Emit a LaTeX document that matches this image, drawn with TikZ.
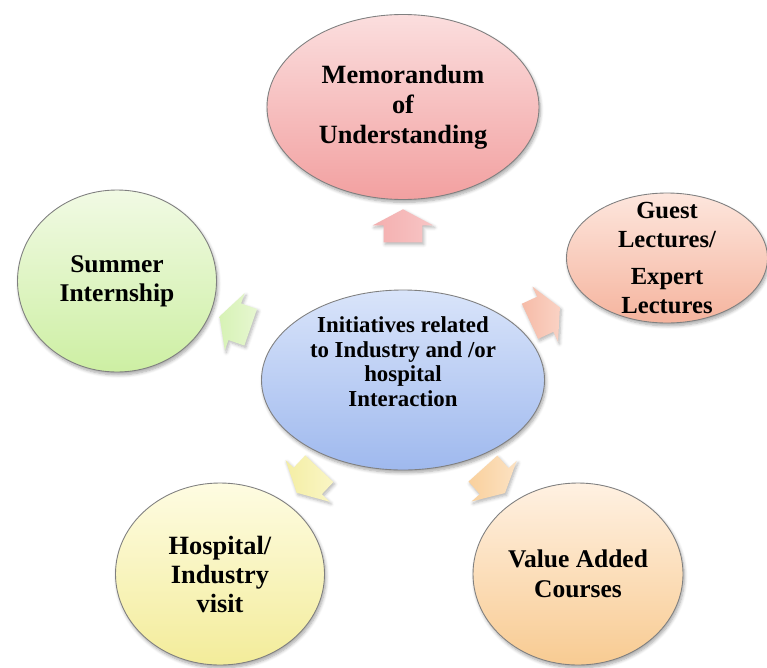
\documentclass[tikz,border=0pt]{standalone}
\usepackage{fontspec}
\setmainfont{Liberation Serif}
\usetikzlibrary{positioning,shapes.geometric,shapes.arrows,shadows.blur}

\definecolor{hubT}{HTML}{D9E4FA}
\definecolor{hubB}{HTML}{9FB9EE}
\definecolor{mouT}{HTML}{FBDEDE}
\definecolor{mouB}{HTML}{F2A0A0}
\definecolor{guestT}{HTML}{FDE6DD}
\definecolor{guestB}{HTML}{F5B49E}
\definecolor{sumT}{HTML}{F1FAE4}
\definecolor{sumB}{HTML}{CDEFA3}
\definecolor{hospT}{HTML}{FEFCE2}
\definecolor{hospB}{HTML}{F3EC9A}
\definecolor{vacT}{HTML}{FFF1E2}
\definecolor{vacB}{HTML}{F8CB92}

\begin{document}
\begin{tikzpicture}[on grid,
    bubble/.style = {ellipse, draw=black!50, line width=0.5pt, inner sep=0pt, align=center,
        font=\fontsize{15}{17}\selectfont\bfseries,
        blur shadow={shadow xshift=0.8pt, shadow yshift=-1.6pt, shadow blur steps=6, shadow opacity=35}},
    flow/.style = {single arrow, single arrow head extend=0.22cm, single arrow tip angle=124,
        single arrow head indent=0pt, minimum height=0.66cm, minimum width=1.2cm,
        inner xsep=0pt, inner ysep=0.38cm, sloped, allow upside down,
        blur shadow={shadow xshift=0.8pt, shadow yshift=-1.2pt, shadow blur steps=5, shadow opacity=30}}]
    \useasboundingbox (0,0) rectangle (15.34,-13.34);
    \node[bubble, minimum width=5.66cm, minimum height=3.6cm, top color=hubT, bottom color=hubB,
        font=\fontsize{13}{14}\selectfont\bfseries] (hub) at (8.06,-7.60)
        {Initiatives related\\to Industry and /or\\hospital\\Interaction\\[3pt]\strut};
    \node[bubble, minimum width=5.44cm, minimum height=3.7cm, top color=mouT, bottom color=mouB]
        (mou) [above=5.46cm of hub] {Memorandum\\of\\Understanding};
    \node[bubble, minimum width=4.02cm, minimum height=2.6cm, inner ysep=-12pt, top color=guestT, bottom color=guestB,
        font=\fontsize{14}{17}\selectfont\bfseries]
        (guest) [above right=2.44cm and 5.28cm of hub] {Guest\\Lectures/\\[3.5pt]Expert\\Lectures};
    \node[bubble, minimum width=3.98cm, minimum height=3.64cm, top color=sumT, bottom color=sumB,
        font=\fontsize{14.5}{16.5}\selectfont\bfseries]
        (summer) [above left=1.98cm and 5.72cm of hub] {Summer\\Internship};
    \node[bubble, minimum width=4.18cm, minimum height=3.64cm, top color=hospT, bottom color=hospB,
        font=\fontsize{15}{16.5}\selectfont\bfseries]
        (hosp) [below left=3.88cm and 3.66cm of hub] {Hospital/\\Industry\\visit};
    \node[bubble, minimum width=4.2cm, minimum height=3.64cm, top color=vacT, bottom color=vacB,
        font=\fontsize{14.5}{17}\selectfont\bfseries]
        (vac) [below right=3.88cm and 3.5cm of hub] {Value Added\\Courses};
    \path (hub.center) -- node[flow, pos=0.546, left color=mouB!85!white, right color=mouT!60!mouB] (a1) {} (mou.center);
    \path (hub.center) -- node[flow, pos=0.52, left color=guestB!90!white, right color=guestT!60!guestB] (a2) {} (guest.center);
    \path (hub.center) -- node[flow, pos=0.57, left color=sumB!80!white, right color=sumT!70!sumB] (a3) {} (summer.center);
    \path (hub.center) -- node[flow, pos=0.5, left color=hospB!90!white, right color=hospT!60!hospB] (a4) {} (hosp.center);
    \path (hub.center) -- node[flow, pos=0.5, left color=vacB!90!white, right color=vacT!60!vacB] (a5) {} (vac.center);
\end{tikzpicture}
\end{document}
